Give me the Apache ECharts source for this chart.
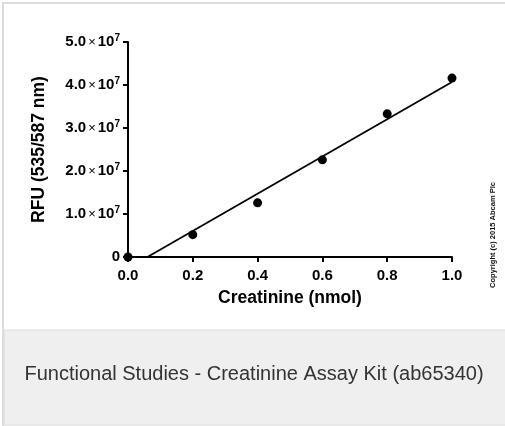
<!DOCTYPE html>
<html>
<head>
<meta charset="utf-8">
<script src="https://cdn.jsdelivr.net/npm/echarts@6/dist/echarts.min.js"></script>
<style>
  html, body { margin: 0; padding: 0; background: #fff; }
  #chart { width: 505px; height: 426px; }
</style>
</head>
<body>
<div id="chart"></div>
<script>
var chartDom = document.getElementById('chart');
var myChart = echarts.init(chartDom);
var option;

// creatinine standard curve
const creatinine = [0, 0.2, 0.4, 0.6, 0.8, 1.0];
const rfu = [0, 0.52e7, 1.26e7, 2.26e7, 3.33e7, 4.16e7];
// ends of the drawn fit line
const fitX = [0.06, 1.0];
const fitY = [0, 4.07e7];
const yTicks = ['0', '1.0', '2.0', '3.0', '4.0', '5.0'];

const font = 'Liberation Sans, Arial, sans-serif';

option = {
  animation: false,
  backgroundColor: '#fff',
  graphic: [
    // white panel with grey top/left border
    {
      type: 'rect',
      shape: { x: 3, y: 3, width: 510, height: 430 },
      style: { fill: '#ffffff', stroke: '#dcdcdc', lineWidth: 2 },
      z: -10
    },
    // grey caption band
    {
      type: 'rect',
      shape: { x: 4, y: 330, width: 510, height: 95 },
      style: { fill: '#eeefee', stroke: '#dcdcdc', lineWidth: 1 },
      z: -9
    },
    {
      type: 'text',
      x: 254,
      y: 374,
      style: {
        text: 'Functional Studies - Creatinine Assay Kit (ab65340)',
        fill: '#333',
        font: '20px ' + font,
        align: 'center',
        verticalAlign: 'middle'
      }
    },
    {
      type: 'text',
      x: 493,
      y: 235,
      rotation: Math.PI / 2,
      style: {
        text: 'Copyright (c) 2015 Abcam Plc',
        fill: '#111',
        font: 'bold 7.5px ' + font,
        align: 'center',
        verticalAlign: 'middle'
      }
    }
  ],
  grid: {
    left: 128,
    right: 53,
    top: 42,
    bottom: 169,
    containLabel: false,
    outerBoundsMode: 'none'
  },
  xAxis: {
    type: 'value',
    min: 0,
    max: 1,
    interval: 0.2,
    name: 'Creatinine (nmol)',
    nameLocation: 'middle',
    nameGap: 32,
    nameTextStyle: { color: '#000', fontSize: 17.5, fontWeight: 'bold', fontFamily: font },
    axisLine: { show: true, onZero: false, lineStyle: { color: '#000', width: 2 } },
    axisTick: { show: true, inside: false, length: 5, lineStyle: { color: '#000', width: 2 } },
    axisLabel: {
      color: '#000',
      fontSize: 15,
      fontWeight: 'bold',
      fontFamily: font,
      margin: 11,
      formatter: function (v) { return v.toFixed(1); }
    },
    splitLine: { show: false }
  },
  yAxis: {
    type: 'value',
    min: 0,
    max: 5e7,
    interval: 1e7,
    name: 'RFU (535/587 nm)',
    nameLocation: 'middle',
    nameGap: 80,
    nameTextStyle: { color: '#000', fontSize: 17.5, fontWeight: 'bold', fontFamily: font },
    axisLine: { show: true, lineStyle: { color: '#000', width: 2 } },
    axisTick: { show: true, inside: false, length: 5, lineStyle: { color: '#000', width: 2 } },
    axisLabel: {
      color: '#000',
      fontSize: 15,
      fontWeight: 'bold',
      fontFamily: font,
      margin: 8,
      formatter: function (v) {
        var t = yTicks[Math.round(v / 1e7)];
        if (v === 0) return t;
        return t + '{x|\u00d7}10{sup|7}';
      },
      rich: {
        x: { fontSize: 13, fontWeight: 'normal', color: '#000', fontFamily: font, padding: [0, 2, 0, 2] },
        sup: { fontSize: 10, fontWeight: 'bold', color: '#000', fontFamily: font, verticalAlign: 'bottom', padding: [0, 0, 8, 0] }
      }
    },
    splitLine: { show: false }
  },
  series: [
    {
      name: 'Fit',
      type: 'line',
      data: fitX.map(function (x, i) { return [x, fitY[i]]; }),
      symbol: 'none',
      lineStyle: { color: '#000', width: 1.8 },
      clip: false,
      z: 3
    },
    {
      name: 'RFU',
      type: 'scatter',
      data: creatinine.map(function (x, i) { return [x, rfu[i]]; }),
      symbol: 'circle',
      symbolSize: 9,
      itemStyle: { color: '#000', opacity: 1 },
      clip: false,
      z: 4
    }
  ]
};

option && myChart.setOption(option);
</script>
</body>
</html>
